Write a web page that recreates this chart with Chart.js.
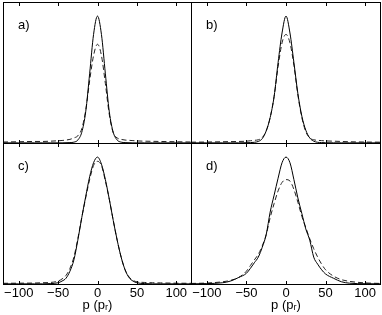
<!DOCTYPE html>
<html>
<head>
<meta charset="utf-8">
<script src="https://cdn.jsdelivr.net/npm/chart.js@4/dist/chart.umd.min.js"></script>
<style>
  html, body { margin: 0; padding: 0; background: #fff; }
  #fig { position: relative; width: 382px; height: 315px; overflow: hidden; }
  #fig canvas { position: absolute; }
</style>
</head>
<body>
<div id="fig">
  <canvas id="pa" width="189" height="142" style="left:3px;top:2px"></canvas>
  <canvas id="pb" width="190" height="142" style="left:191px;top:2px"></canvas>
  <canvas id="pc" width="189" height="172" style="left:3px;top:143px"></canvas>
  <canvas id="pd" width="190" height="172" style="left:191px;top:143px"></canvas>
</div>
<script>
/* global Chart */

// momentum grid p (in units of p_r), shared by all panels
const P = [-120, -100, -80, -70, -60, -50, -45, -40, -35, -30, -25, -20, -15, -10, -5, 0,
  5, 10, 15, 20, 25, 30, 35, 40, 45, 50, 60, 70, 80, 100, 120];

const X_TICKS = [-100, -50, 0, 50, 100];
const X_TICK_LABELS = ['\u2212100', '\u221250', '0', '50', '100'];
const X_TITLE = 'p (p\u1d63)';

// a)
const A_SOLID = [0, 0, 0, 0, 0, 0, 0, 0.001, 0.002, 0.005, 0.02, 0.075, 0.22, 0.49, 0.77, 0.9,
  0.77, 0.49, 0.22, 0.075, 0.02, 0.005, 0.002, 0.001, 0, 0, 0, 0, 0, 0, 0];
const A_DASHED = [0.006, 0.008, 0.01, 0.01, 0.012, 0.015, 0.017, 0.02, 0.025, 0.035, 0.05, 0.1, 0.23, 0.44, 0.62, 0.7,
  0.62, 0.42, 0.2, 0.07, 0.035, 0.025, 0.02, 0.018, 0.016, 0.014, 0.012, 0.011, 0.01, 0.008, 0.006];

// b)
const B_SOLID = [0, 0, 0, 0, 0, 0.001, 0.002, 0.004, 0.01, 0.03, 0.085, 0.18, 0.33, 0.57, 0.78, 0.9,
  0.78, 0.57, 0.35, 0.19, 0.09, 0.035, 0.012, 0.004, 0.002, 0.001, 0, 0, 0, 0, 0];
const B_DASHED = [0.005, 0.006, 0.008, 0.009, 0.01, 0.012, 0.015, 0.018, 0.022, 0.038, 0.085, 0.18, 0.33, 0.54, 0.71, 0.77,
  0.71, 0.55, 0.34, 0.18, 0.08, 0.035, 0.022, 0.018, 0.016, 0.014, 0.012, 0.01, 0.008, 0.006, 0.005];

// c)
const C_SOLID = [0, 0, 0, 0, 0.002, 0.008, 0.02, 0.04, 0.09, 0.17, 0.31, 0.47, 0.62, 0.76, 0.86, 0.9,
  0.85, 0.74, 0.6, 0.45, 0.31, 0.19, 0.1, 0.045, 0.02, 0.008, 0.002, 0, 0, 0, 0];
const C_DASHED = [0.004, 0.005, 0.006, 0.008, 0.01, 0.02, 0.035, 0.06, 0.11, 0.19, 0.32, 0.47, 0.61, 0.74, 0.84, 0.87,
  0.84, 0.73, 0.6, 0.45, 0.31, 0.19, 0.1, 0.05, 0.025, 0.015, 0.01, 0.008, 0.007, 0.005, 0.004];

// d)
const D_SOLID = [0, 0.002, 0.008, 0.02, 0.045, 0.075, 0.11, 0.15, 0.19, 0.26, 0.35, 0.51, 0.63, 0.75, 0.86, 0.9,
  0.86, 0.74, 0.61, 0.5, 0.39, 0.31, 0.19, 0.14, 0.1, 0.07, 0.04, 0.015, 0.005, 0.001, 0];
const D_DASHED = [0.003, 0.006, 0.015, 0.025, 0.045, 0.09, 0.13, 0.17, 0.21, 0.27, 0.35, 0.47, 0.57, 0.66, 0.72, 0.74,
  0.73, 0.67, 0.58, 0.48, 0.4, 0.32, 0.25, 0.19, 0.14, 0.1, 0.055, 0.03, 0.018, 0.007, 0.003];

const FONT = '"Liberation Sans", Arial, Helvetica, sans-serif';

// frame, inward tick marks and the panel letter
const framePlugin = {
  id: 'frame',
  afterDraw(chart, args, opts) {
    const { ctx, chartArea: a } = chart;
    const x = chart.scales.x;
    ctx.save();
    ctx.strokeStyle = '#000';
    ctx.lineWidth = 1;
    ctx.strokeRect(a.left + 0.5, a.top + 0.5, a.right - a.left - 1, a.bottom - a.top - 1);
    ctx.beginPath();
    X_TICKS.forEach(v => {
      const px = Math.round(x.getPixelForValue(v)) + 0.5;
      ctx.moveTo(px, a.top);
      ctx.lineTo(px, a.top + 4);
      ctx.moveTo(px, a.bottom);
      ctx.lineTo(px, a.bottom - 4);
    });
    ctx.stroke();
    ctx.fillStyle = '#000';
    ctx.font = '13px ' + FONT;
    ctx.textBaseline = 'alphabetic';
    ctx.fillText(opts.text, a.left + 15, a.top + 27);
    ctx.restore();
  },
};

function toPoints(ys) {
  return P.map((p, i) => ({ x: p, y: ys[i] }));
}

function makePanel(canvasId, letter, solid, dashed, showAxis) {
  const ctx = document.getElementById(canvasId).getContext('2d');
  return new Chart(ctx, {
    type: 'line',
    data: {
      datasets: [
        { data: toPoints(solid), borderColor: '#000', borderWidth: 1 },
        { data: toPoints(dashed), borderColor: '#222', borderWidth: 1, borderDash: [5, 3] },
      ],
    },
    options: {
      responsive: false,
      animation: false,
      layout: { padding: 0 },
      elements: {
        point: { radius: 0 },
        line: { cubicInterpolationMode: 'monotone', fill: false },
      },
      plugins: {
        legend: { display: false },
        tooltip: { enabled: false },
        frame: { text: letter },
      },
      scales: {
        x: {
          type: 'linear',
          min: -120,
          max: 120,
          display: showAxis,
          grid: { display: false, drawTicks: false },
          border: { display: false },
          afterBuildTicks: s => { s.ticks = X_TICKS.map(v => ({ value: v })); },
          afterFit: s => { s.height = showAxis ? 30 : 0; },
          ticks: {
            autoSkip: false,
            maxRotation: 0,
            padding: 1,
            color: '#000',
            font: { family: FONT, size: 13 },
            callback: v => X_TICK_LABELS[X_TICKS.indexOf(v)],
          },
          title: {
            display: true,
            text: X_TITLE,
            color: '#000',
            font: { family: FONT, size: 13 },
            padding: { top: 0, bottom: 2 },
          },
        },
        y: { display: false, min: -0.008, max: 1 },
      },
    },
    plugins: [framePlugin],
  });
}

makePanel('pa', 'a)', A_SOLID, A_DASHED, false);
makePanel('pb', 'b)', B_SOLID, B_DASHED, false);
makePanel('pc', 'c)', C_SOLID, C_DASHED, true);
makePanel('pd', 'd)', D_SOLID, D_DASHED, true);
</script>
</body>
</html>
